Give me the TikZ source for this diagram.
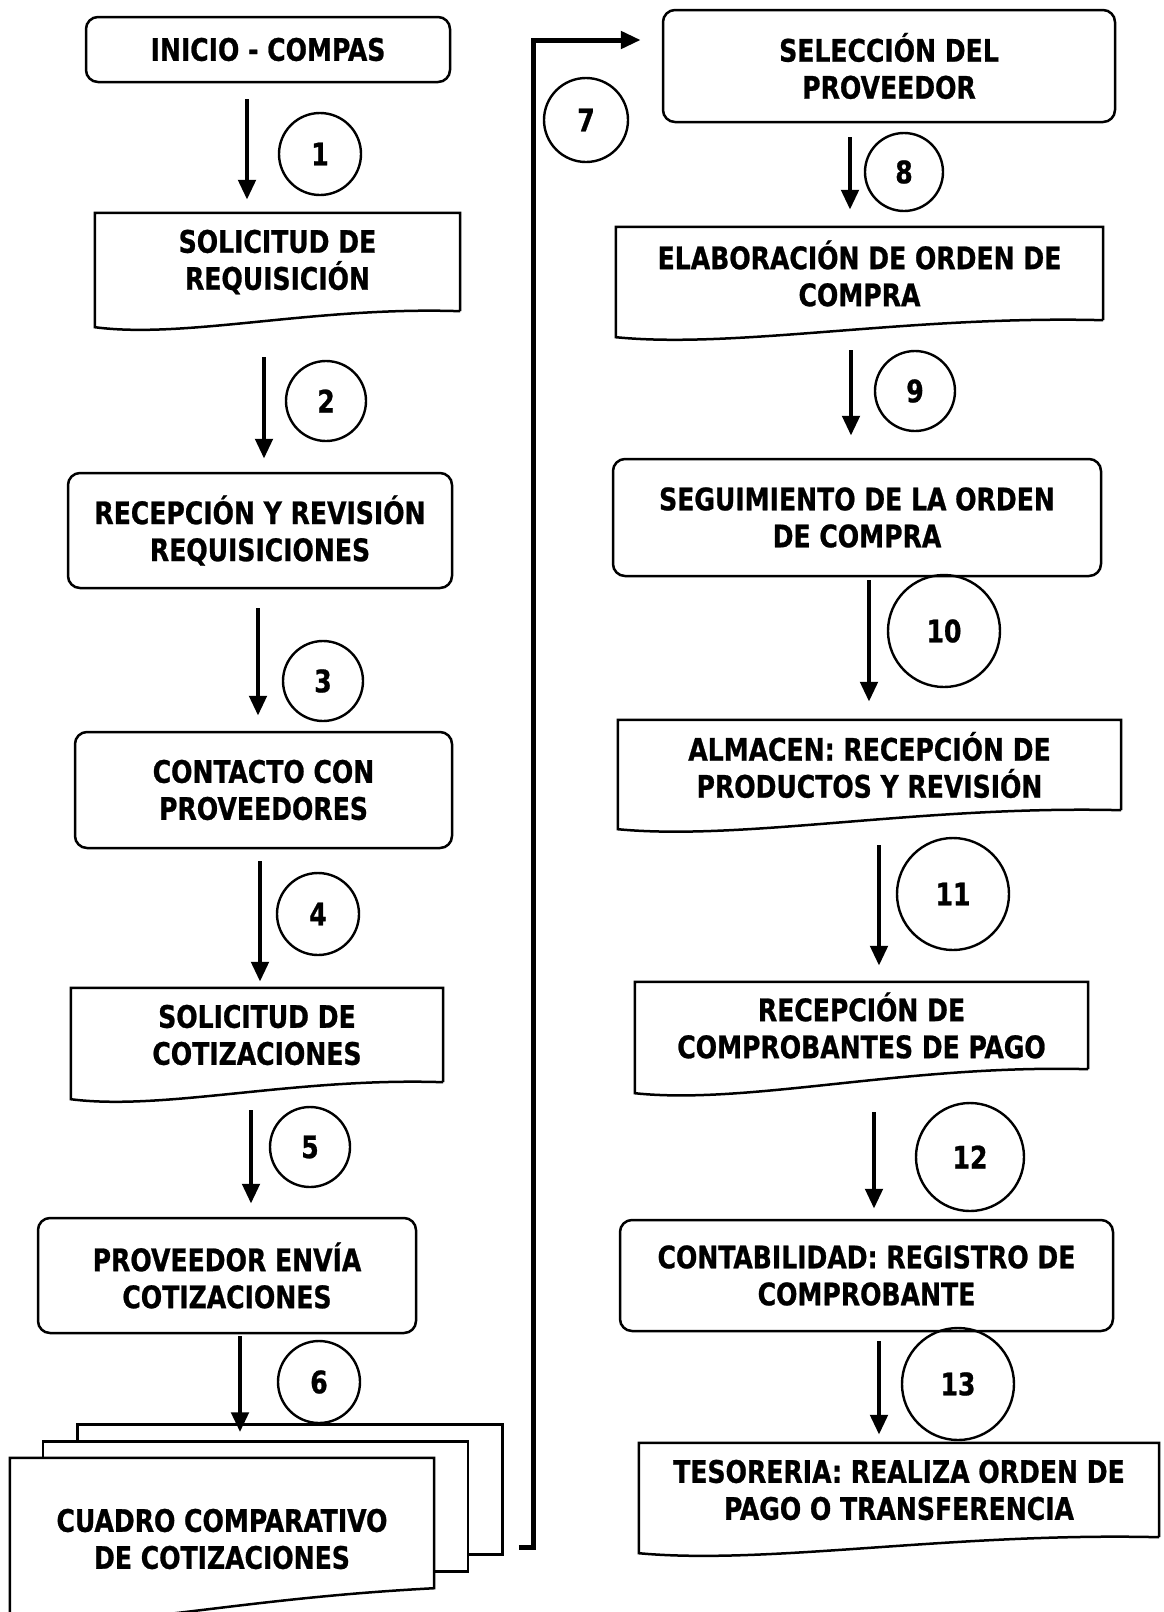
\documentclass[tikz,border=0pt]{standalone}
\usepackage{fontspec}
\setmainfont{DejaVu Sans Condensed}[FakeStretch=0.9, BoldFeatures={FakeBold=0.8}]
\usetikzlibrary{positioning, arrows.meta, calc, backgrounds}

\newcommand{\flowfont}{\bfseries\fontsize{31}{37}\selectfont}
% outline of a document box, #2 = drop of the left corner
\newcommand{\docoutline}[2]{%
  \draw[boxline] (#1.south east) -- (#1.north east) -- (#1.north west) -- ($(#1.south west)+(0,#2)$)
    .. controls ($(#1.south west)!0.25!(#1.south east)+(0,#2+12)$)
    and ($(#1.south west)!0.6!(#1.south east)+(0,-5)$) .. (#1.south east);}

\begin{document}
\begin{tikzpicture}[x=1pt, y=-1pt,
  boxline/.style={line width=2.5pt},
  procbox/.style={draw, boxline, rounded corners=12pt, align=center, inner sep=0pt, font=\flowfont},
  docbox/.style={align=center, inner sep=0pt, font=\flowfont},
  sheet/.style={draw, boxline, fill=white, minimum width=425pt, minimum height=130pt},
  stepnum/.style={draw, circle, line width=2.4pt, inner sep=0pt, font=\flowfont},
  flow/.style={line width=4.8pt, -{Triangle[width=17pt,length=20pt]}}]
  \useasboundingbox (0,0) rectangle (1163,1612);

  % left column
  \node[procbox, minimum width=364pt, minimum height=65pt] (start) at (268,49.5) {INICIO - COMPAS};
  \node[docbox, minimum width=365pt, minimum height=98pt] (req) at (277.5,262) {SOLICITUD DE\\REQUISICIÓN};
  \node[procbox, minimum width=384pt, minimum height=115pt] (recep) at (260,530.5) {RECEPCIÓN Y REVISIÓN\\REQUISICIONES};
  \node[procbox, minimum width=377pt, minimum height=116pt] (contacto) at (263.5,790) {CONTACTO CON\\PROVEEDORES};
  \node[docbox, minimum width=372pt, minimum height=94pt] (solcot) at (257,1035) {SOLICITUD DE\\COTIZACIONES};
  \node[procbox, minimum width=378pt, minimum height=115pt] (provenv) at (227,1275.5) {PROVEEDOR ENVÍA\\COTIZACIONES};
  \node[docbox, minimum width=424pt, minimum height=162pt] (cuadro) at (222,1539) {CUADRO COMPARATIVO\\DE COTIZACIONES};

  % right column
  \node[procbox, minimum width=452pt, minimum height=112pt] (select) at (889,66) {SELECCIÓN DEL\\PROVEEDOR};
  \node[docbox, minimum width=487pt, minimum height=93pt] (elab) at (859.5,273.5) {ELABORACIÓN DE ORDEN DE\\COMPRA};
  \node[procbox, minimum width=488pt, minimum height=117pt] (segui) at (857,517.5) {SEGUIMIENTO DE LA ORDEN\\DE COMPRA};
  \node[docbox, minimum width=503pt, minimum height=90pt] (almacen) at (869.5,765) {ALMACEN: RECEPCIÓN DE\\PRODUCTOS Y REVISIÓN};
  \node[docbox, minimum width=453pt, minimum height=87pt] (recep2) at (861.5,1025.5) {RECEPCIÓN DE\\COMPROBANTES DE PAGO};
  \node[procbox, minimum width=493pt, minimum height=111pt] (conta) at (866.5,1275.5) {CONTABILIDAD: REGISTRO DE\\COMPROBANTE};
  \node[docbox, minimum width=520pt, minimum height=94pt] (teso) at (899,1490) {TESORERIA: REALIZA ORDEN DE\\PAGO O TRANSFERENCIA};

  \foreach \d/\h in {req/16, solcot/17, elab/17, almacen/19, recep2/24, teso/16}
    \docoutline{\d}{\h};

  % stacked sheets behind the comparison table
  \begin{scope}[on background layer]
    \node[sheet] (sheet3) at (290,1489.5) {};
    \node[sheet] (sheet2) at (255.5,1506.5) {};
    \draw[boxline, fill=white] (cuadro.north west) -- (cuadro.north east) -- ($(cuadro.south east)+(0,-32)$)
      .. controls ($(cuadro.south west)!0.55!(cuadro.south east)+(0,-22)$)
      and ($(cuadro.south west)!0.3!(cuadro.south east)+(0,5)$) .. ($(cuadro.south west)+(0,5)$) -- cycle;
  \end{scope}

  % step numbers
  \foreach \n/\x/\y/\d in {1/320/154/82, 2/326/401/80, 3/323/681/80, 4/318/914/82, 5/310/1147/80,
      6/319/1382/82, 7/586/120/84, 8/904/172/78, 9/915/391/80, 10/944/631/112,
      11/953/894/112, 12/970/1157/108, 13/958/1384/112}
    \node[stepnum, minimum size=\d pt] (n\n) at (\x,\y) {\n};

  % flow arrows
  \foreach \a/\b/\dx/\gs/\ge in {start/req/-21/16/13, req/recep/-13.5/46/13, recep/contacto/-2/19/15,
      contacto/solcot/-3.5/12/6, solcot/provenv/-6/28/13, provenv/sheet3/13/2/-9,
      select/elab/-39/14/17, elab/segui/-8.5/30/22, segui/almacen/12/3/18,
      almacen/recep2/9.5/35/16, recep2/conta/12.5/43/10, conta/teso/12.5/9/8}
    \draw[flow, shorten <=\gs pt, shorten >=\ge pt] ([xshift=\dx pt]\a.south) -- ([xshift=\dx pt]\a.south |- \b.north);

  \coordinate (c7) at (533,40);
  \draw[flow, line width=5pt, shorten >=21pt] ([xshift=15pt,yshift=8.5pt]sheet3.south east) -| (c7) -- (c7 -| select.west);
\end{tikzpicture}
\end{document}
